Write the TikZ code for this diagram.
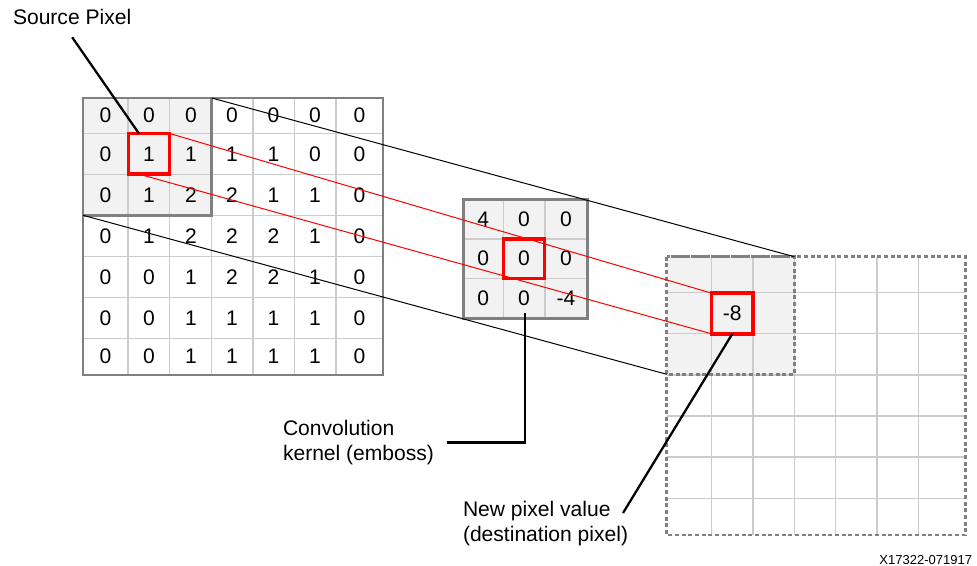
\documentclass[tikz,border=0pt]{standalone}
\usepackage{fontspec}
\setmainfont{Liberation Sans}
\definecolor{gridline}{HTML}{CCCCCC}
\definecolor{gridframe}{HTML}{808080}
\definecolor{cellfill}{HTML}{F2F2F2}

\begin{document}
\begin{tikzpicture}[x=0.75pt,y=-0.75pt,
  every node/.style={inner sep=0pt,outer sep=0pt,font=\fontsize{15.8}{19}\selectfont},
  cellline/.style={draw=gridline,line width=1pt},
  frame/.style={draw=gridframe,line width=1.9pt},
  dashframe/.style={frame,dash pattern=on 3pt off 2pt},
  proj/.style={draw=black,line width=0.75pt},
  redproj/.style={draw=red,line width=0.75pt},
  pick/.style={draw=red,line width=2.6pt,minimum width=31pt,minimum height=30.5pt},
  leader/.style={draw=black,line width=1.7pt}]

\useasboundingbox (0,0) rectangle (977,566);

% shaded 3x3 windows
\fill[cellfill] (83,98) coordinate (src-nw) rectangle (211.7,215.3) coordinate (src-se);
\fill[cellfill] (463.3,199.3) coordinate (ker-nw) rectangle (587.7,318.3) coordinate (ker-se);
\fill[cellfill] (666.7,256.7) coordinate (dst-nw) rectangle (794.3,374.3) coordinate (dst-se);

% cell lines
\foreach \k in {1,...,6} {
  \draw[cellline] ({86.5+41.6*\k},98) -- ({86.5+41.6*\k},375);
  \draw[cellline] (83,{92.3+41*\k}) -- (383,{92.3+41*\k});
  \draw[cellline] ({670.3+41.35*\k},256.7) -- ({670.3+41.35*\k},535);
  \draw[cellline] (666.7,{251.6+41.1*\k}) -- (965.7,{251.6+41.1*\k});
}
\draw[cellline] (503.3,199.3) -- (503.3,318.3) (545,199.3) -- (545,318.3);
\draw[cellline] (463.3,239) -- (587.7,239) (463.3,278.3) -- (587.7,278.3);

% frames
\draw[frame] (83,98) rectangle (383,375);
\draw[frame] (src-nw) rectangle (src-se);
\draw[frame] (ker-nw) rectangle (ker-se);
\draw[dashframe] (666.7,256.7) rectangle (965.7,535);
\draw[dashframe] (dst-nw) rectangle (dst-se);

% source pixels
\foreach \row [count=\r] in {{0,0,0,0,0,0,0},{0,1,1,1,1,0,0},{0,1,2,2,1,1,0},
    {0,1,2,2,2,1,0},{0,0,1,2,2,1,0},{0,0,1,1,1,1,0},{0,0,1,1,1,1,0}}
  \foreach \v [count=\c] in \row {
    \pgfmathsetmacro\cx{{105.5,149,191,232,273.5,315,359.5}[\c-1]}
    \pgfmathsetmacro\cy{{115.7,154,195,236,277,318,356.7}[\r-1]}
    \node (src-\r-\c) at (\cx,\cy) {\v};
  }

% kernel
\foreach \row [count=\r] in {{4,0,0},{0,0,0},{0,0,-4}}
  \foreach \v [count=\c] in \row {
    \pgfmathsetmacro\cx{{483.3,524,566}[\c-1]}
    \pgfmathsetmacro\cy{{219,258.7,298.3}[\r-1]}
    \node (ker-\r-\c) at (\cx,\cy) {\v};
  }

% picked pixels
\node[pick] (src-pick) at (148.9,153.8) {};
\node[pick,minimum height=29.5pt] (ker-pick) at (524,258.7) {};
\node[pick] (dst-pick) at (732.3,313.5) {-8};

% projection lines
\draw[proj] (src-se |- src-nw) -- (dst-se |- dst-nw);
\draw[proj] (src-nw |- src-se) -- (dst-nw |- dst-se);
\draw[redproj] (src-pick.north east) -- (dst-pick.north west);
\draw[redproj] ([xshift=-7.5pt]src-pick.south) -- (dst-pick.south west);

% labels
\node[anchor=base west] (srclabel) at (13,25) {Source Pixel};
\node[anchor=north west,align=left] (kerlabel) at (283,420) {Convolution\\kernel (emboss)};
\node[anchor=north west,align=left] (dstlabel) at (463,501) {New pixel value\\(destination pixel)};
\node[anchor=base east,font=\fontsize{9.75}{12}\selectfont] (figid) at (972,564) {X17322-071917};

\coordinate (ker-tip) at (525,313);
\coordinate (dst-tip) at (623,513);

\draw[leader] ([yshift=-9pt]srclabel.south) -- ([xshift=-7.5pt]src-pick.north);
\draw[leader] (ker-tip) |- ([xshift=10pt]kerlabel.east);
\draw[leader] (dst-pick.south) -- (dst-tip);

\end{tikzpicture}
\end{document}
